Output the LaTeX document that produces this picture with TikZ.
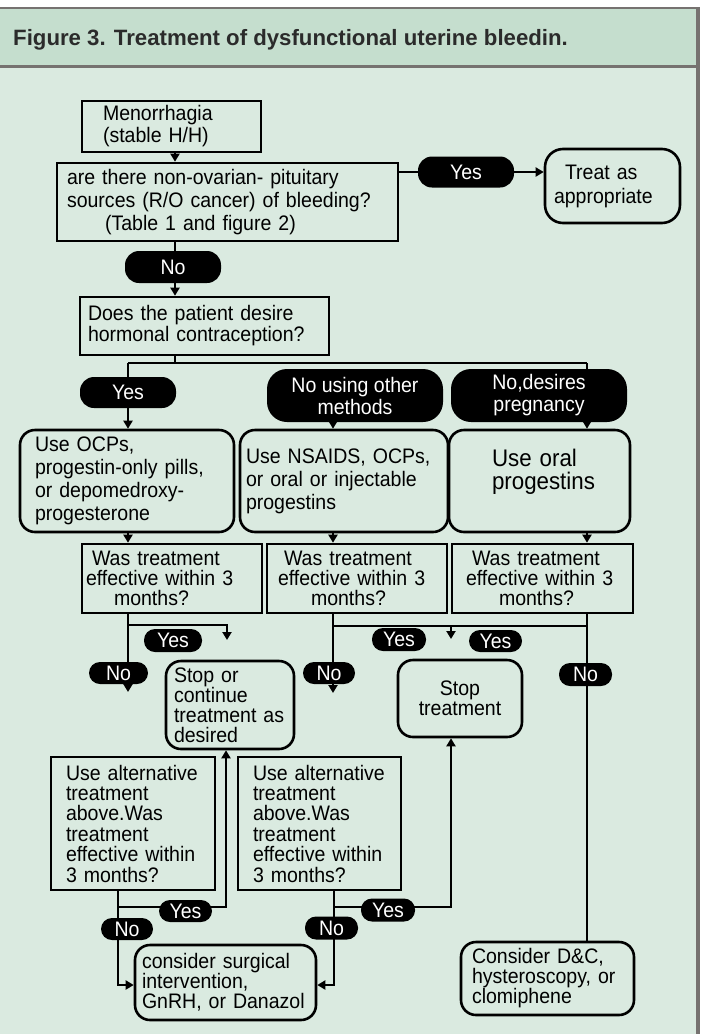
\documentclass[tikz,border=0pt]{standalone}
\usepackage{fontspec}
\setmainfont{Liberation Sans}[FakeStretch=0.93]
\newfontfamily\ttlfont{Liberation Sans}
\usetikzlibrary{arrows.meta}
\pgfdeclarelayer{back}
\pgfdeclarelayer{conn}
\pgfsetlayers{back,conn,main}
\definecolor{hdr}{HTML}{C5DECE}
\definecolor{bodyc}{HTML}{DAEAE0}
\definecolor{frm}{HTML}{767270}
\definecolor{ttl}{HTML}{2B2B2B}
\newcommand{\ind}[1]{\hspace*{#1pt}}
\tikzset{
  bx/.style={draw, line width=2.6pt, inner sep=0pt, align=left, font=\fontsize{21}{23}\selectfont},
  rbx/.style={bx, rounded corners=15pt},
  pill/.style={fill=black, text=white, inner sep=0pt, rounded corners=11pt, align=center, font=\fontsize{21}{22}\selectfont},
  bigpill/.style={pill, rounded corners=20pt},
  conn/.style={line width=2.6pt},
  arr/.style={conn, -{Triangle[length=8pt,width=9pt]}},
  lsA/.style={font=\fontsize{21}{22}\selectfont},
  lsB/.style={font=\fontsize{21}{19.8}\selectfont},
  lsC/.style={font=\fontsize{21}{20.4}\selectfont},
}
\begin{document}
\begin{tikzpicture}[x=1pt,y=-1pt]
\useasboundingbox (0,0) rectangle (701,1034);
\begin{pgfonlayer}{back}
\fill[white] (0,0) rectangle (701,1034);
\fill[bodyc] (0,66) rectangle (698,1034);
\fill[hdr] (0,8) rectangle (698,66);
\draw[frm, line width=2.2pt] (0,8.3) -- (698,8.3);
\draw[frm, line width=3pt] (0,66.5) -- (698,66.5);
\draw[frm, line width=3.5pt] (698,7.2) -- (698,1034);
\end{pgfonlayer}

\node[anchor=base west, inner sep=0pt, text=ttl, font=\ttlfont\fontsize{22.2}{26}\selectfont\bfseries] (title) at (13,45) {Figure 3. Treatment of dysfunctional uterine bleedin.};

% boxes
\node[bx, lsA, minimum width=179pt, minimum height=51pt, text width=179pt] (menor) at (171.5,126.5) {\ind{21}Menorrhagia\\\ind{21}(stable H/H)};
\node[bx, minimum width=341pt, minimum height=78pt, text width=341pt] (q1) at (227.5,202) {\ind{10}are there non-ovarian- pituitary\\\ind{10}sources (R/O cancer) of bleeding?\\\ind{48}(Table 1 and figure 2)};
\node[rbx, rounded corners=18pt, font=\fontsize{21}{24}\selectfont, minimum width=135pt, minimum height=74pt, text width=135pt] (treat) at (612.5,186) {\ind{20}Treat as\\\ind{9}appropriate};
\node[bx, font=\fontsize{21}{21}\selectfont, minimum width=249pt, minimum height=58pt, text width=249pt] (does) at (204.5,326) {\ind{8}Does the patient desire\\\ind{8}hormonal contraception?};

\node[rbx, minimum width=214pt, minimum height=102pt, text width=214pt] (usea) at (127,481) {\ind{15}Use OCPs,\\\ind{15}progestin-only pills,\\\ind{15}or depomedroxy-\\\ind{15}progesterone};
\node[rbx, minimum width=208pt, minimum height=102pt, text width=208pt] (useb) at (344,481) {\ind{6}Use NSAIDS, OCPs,\\\ind{6}or oral or injectable\\\ind{6}progestins};
\node[rbx, font=\fontsize{24}{23}\selectfont, minimum width=181pt, minimum height=102pt, text width=181pt] (usec) at (539.5,481) {\ind{43}Use oral\\\ind{43}progestins\\\mbox{}};

\node[bx, lsB, minimum width=180pt, minimum height=69pt, text width=180pt] (w1) at (172,578.5) {\ind{10}Was treatment\\\ind{4}effective within 3\\\ind{32}months?};
\node[bx, lsB, minimum width=180pt, minimum height=69pt, text width=180pt] (w2) at (357,578.5) {\ind{17}Was treatment\\\ind{11}effective within 3\\\ind{44}months?};
\node[bx, lsB, minimum width=181pt, minimum height=69pt, text width=181pt] (w3) at (542.5,578.5) {\ind{20}Was treatment\\\ind{14}effective within 3\\\ind{47}months?};

\node[rbx, font=\fontsize{21}{20}\selectfont, minimum width=128pt, minimum height=88pt, text width=128pt] (stop1) at (230,705) {\ind{8}Stop or\\\ind{8}continue\\\ind{8}treatment as\\\ind{8}desired};
\node[rbx, align=center, font=\fontsize{21}{20}\selectfont, minimum width=124pt, minimum height=77pt, text width=124pt] (stop2) at (460,698.5) {Stop\\treatment};

\node[bx, lsC, minimum width=164pt, minimum height=133pt, text width=164pt] (alt1) at (133,823.5) {\ind{15}Use alternative\\\ind{15}treatment\\\ind{15}above.Was\\\ind{15}treatment\\\ind{15}effective within\\\ind{15}3 months?};
\node[bx, lsC, minimum width=163pt, minimum height=133pt, text width=163pt] (alt2) at (319.5,823.5) {\ind{15}Use alternative\\\ind{15}treatment\\\ind{15}above.Was\\\ind{15}treatment\\\ind{15}effective within\\\ind{15}3 months?};

\node[rbx, font=\fontsize{21}{20}\selectfont, minimum width=181pt, minimum height=75pt, text width=181pt] (surg) at (225.5,982.5) {\ind{7}consider surgical\\\ind{7}intervention,\\\ind{7}GnRH, or Danazol};
\node[rbx, font=\fontsize{21}{20}\selectfont, minimum width=173pt, minimum height=73pt, text width=173pt] (dc) at (547.5,978.5) {\ind{11}Consider D\&C,\\\ind{11}hysteroscopy, or\\\ind{11}clomiphene};

% pills
\node[pill, rounded corners=14pt, minimum width=96pt, minimum height=31pt] (yes1) at (466,172) {Yes};
\node[pill, rounded corners=14pt, minimum width=96pt, minimum height=32pt] (no1) at (173,267) {No};
\node[pill, rounded corners=14pt, minimum width=96pt, minimum height=31pt] (yes2) at (128,392.5) {Yes};
\node[bigpill, minimum width=176pt, minimum height=53pt] (mid) at (355,395.5) {No using other\\methods};
\node[bigpill, minimum width=176pt, minimum height=53pt] (preg) at (539,395.5) {No,desires\\pregnancy};

\node[pill, minimum width=58pt, minimum height=23pt] (yes3) at (173,640.5) {Yes};
\node[pill, minimum width=59pt, minimum height=22pt] (no3) at (118.5,673) {No};
\node[pill, minimum width=54pt, minimum height=23pt] (yes4) at (399,639.5) {Yes};
\node[pill, minimum width=53pt, minimum height=22pt] (yes5) at (495.5,641) {Yes};
\node[pill, minimum width=52pt, minimum height=22pt] (no4) at (329,673) {No};
\node[pill, minimum width=53pt, minimum height=23pt] (no5) at (585.5,674.5) {No};

\node[pill, minimum width=53pt, minimum height=22pt] (yes6) at (185.5,911) {Yes};
\node[pill, minimum width=52pt, minimum height=22pt] (no6) at (127,929) {No};
\node[pill, minimum width=54pt, minimum height=23pt] (yes7) at (388,910) {Yes};
\node[pill, minimum width=53pt, minimum height=23pt] (no7) at (331.5,928) {No};

% junction coordinates
\coordinate (cx) at (175,0);
\coordinate (bl) at (128,363);
\coordinate (bm) at (175,363);
\coordinate (br) at (587,363);
\coordinate (mx) at (333,0);
\coordinate (j1) at (128,625);
\coordinate (j1r) at (227,625);
\coordinate (j1e) at (227,640);
\coordinate (n1e) at (128,692);
\coordinate (j2) at (333,626);
\coordinate (j3) at (587,626);
\coordinate (j2m) at (451,626);
\coordinate (j2e) at (451,639);
\coordinate (n2e) at (333,693);
\coordinate (sa) at (118,985);
\coordinate (ya) at (118,907);
\coordinate (yb) at (226,907);
\coordinate (sb) at (334,985);
\coordinate (yc) at (334,907);
\coordinate (yd) at (451,907);

\begin{pgfonlayer}{conn}
\draw[arr] (menor.south -| cx) -- (q1.north -| cx);
\draw[conn] (q1.east |- yes1) -- (yes1.west);
\draw[arr] (yes1.east) -- (treat.west |- yes1);
\draw[arr] (q1.south -| cx) -- (does.north -| cx);
\draw[conn] (does.south -| cx) -- (bm);
\draw[conn] (bl) -- (br);
\draw[arr] (bl) -- (usea.north -| bl);
\draw[arr] (br) -- (usec.north -| br);
\draw[arr] (mid.south -| mx) -- (useb.north -| mx);
\draw[arr] (usea.south -| bl) -- (w1.north -| bl);
\draw[arr] (useb.south -| mx) -- (w2.north -| mx);
\draw[arr] (usec.south -| br) -- (w3.north -| br);
\draw[arr] (w1.south -| bl) -- (n1e);
\draw[arr] (j1) -- (j1r) -- (j1e);
\draw[arr] (w2.south -| mx) -- (n2e);
\draw[conn] (j2) -- (j3);
\draw[arr] (j2m) -- (j2e);
\draw[conn] (w3.south -| br) -- (dc.north -| br);
\draw[arr] (alt1.south -| sa) -- (sa) -- (surg.west |- sa);
\draw[arr] (ya) -- (yb) -- (stop1.south -| yb);
\draw[arr] (alt2.south -| sb) -- (sb) -- (surg.east |- sb);
\draw[arr] (yc) -- (yd) -- (stop2.south -| yd);
\end{pgfonlayer}
\end{tikzpicture}
\end{document}
